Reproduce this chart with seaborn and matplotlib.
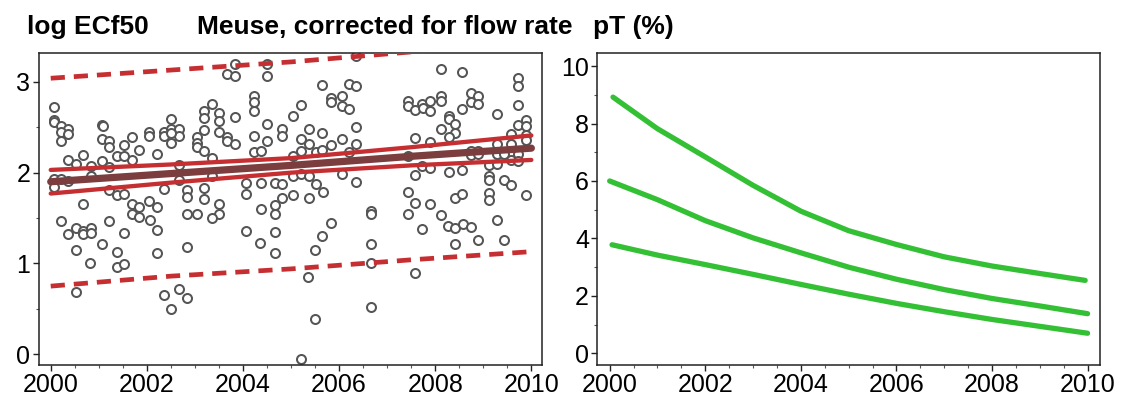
import matplotlib
matplotlib.use("Agg")
import matplotlib.pyplot as plt
from matplotlib.ticker import MultipleLocator
import seaborn as sns
import pandas as pd

# Individual samples: sampling date (decimal year) and log ECf50 (flow-corrected)
sample_year = [
    2000.06, 2000.06, 2000.07, 2000.22, 2000.36, 2000.22, 2000.36, 2000.22,
    2001.06, 2001.08, 2001.06, 2001.22, 2001.22, 2001.53, 2001.69, 2001.84, 2001.69, 2001.37, 2001.53,
    2002.05, 2002.05, 2002.21, 2002.36, 2002.36, 2002.51, 2002.51, 2002.67, 2002.51, 2002.67, 2002.51,
    2003.19, 2003.19, 2003.19, 2003.04, 2003.04, 2003.04, 2003.19,
    2000.36, 2000.52, 2000.68, 2000.83, 2001.06, 2001.22,
    2000.06, 2000.22, 2000.36, 2000.83, 2000.06, 2001.22, 2001.37, 2001.53,
    2000.68, 2001.69, 2001.84, 2002.05, 2002.21, 2002.36, 2002.67, 2002.67, 2002.83, 2002.83,
    2003.19, 2003.19, 2001.69, 2002.83, 2003.04,
    2003.83, 2003.67, 2003.83, 2004.51, 2004.51, 2006.35, 2005.65, 2006.21, 2006.36,
    2003.36, 2003.51, 2003.51, 2003.51, 2003.83, 2004.22, 2004.22, 2004.22, 2004.51, 2005.04,
    2005.20, 2005.83, 2005.83, 2006.05, 2006.05, 2006.21,
    2004.81, 2004.81, 2004.22, 2004.51, 2003.67, 2003.67, 2003.83, 2005.38, 2005.65, 2005.20,
    2005.38, 2006.05, 2006.36, 2006.36,
    2004.22, 2004.37, 2005.20, 2005.51, 2005.65, 2005.83, 2006.21, 2003.36, 2005.04,
    2004.06, 2004.37, 2004.67, 2004.82, 2005.04, 2005.20, 2005.38, 2005.51, 2006.05, 2006.36, 2003.36,
    2004.06, 2004.82, 2005.04, 2005.38, 2005.67, 2004.67, 2004.37, 2003.51, 2003.51, 2004.67,
    2006.66, 2006.66,
    2008.11, 2008.56, 2009.72, 2009.72, 2009.72, 2007.44, 2007.44, 2007.58, 2007.73, 2007.75,
    2007.90, 2007.90, 2008.11, 2008.11, 2008.56, 2008.74, 2008.74, 2008.90, 2008.90, 2009.28,
    2008.29, 2008.29, 2008.42, 2008.11, 2008.42, 2008.29, 2007.58, 2007.90, 2009.72, 2009.88,
    2009.88, 2009.57, 2009.88, 2009.88, 2009.28, 2009.57,
    2008.74, 2008.90, 2008.74, 2008.90, 2009.28, 2009.43, 2009.72, 2009.57, 2009.72, 2009.12,
    2009.28, 2007.44, 2007.73, 2007.90,
    2007.58, 2008.29, 2008.56, 2009.12, 2009.12, 2009.43, 2009.57, 2007.44, 2007.58, 2007.90,
    2008.42, 2008.56, 2009.12, 2009.12, 2009.88, 2007.44, 2008.11,
    2000.22, 2000.36, 2000.52, 2000.68, 2000.68, 2000.83, 2000.83, 2000.52, 2000.82, 2001.06,
    2001.22, 2001.37, 2001.37, 2001.53, 2001.53, 2001.84, 2002.06, 2002.21, 2002.21, 2002.83,
    2000.52, 2002.36, 2002.51, 2002.67, 2002.83,
    2003.36, 2004.06, 2004.35, 2004.67, 2004.67, 2005.50, 2005.65, 2005.83, 2006.66, 2006.66,
    2006.66, 2005.36, 2005.50, 2005.20,
    2007.73, 2008.27, 2008.42, 2008.58, 2008.74, 2008.42, 2008.90, 2009.28, 2009.43, 2007.58,
]
log_ecf50 = [
    2.72, 2.58, 2.56, 2.51, 2.48, 2.45, 2.43, 2.35,
    2.53, 2.51, 2.37, 2.35, 2.28, 2.31, 2.39, 2.25, 2.14, 2.18, 2.18,
    2.45, 2.40, 2.20, 2.45, 2.40, 2.59, 2.48, 2.48, 2.33, 2.40, 2.44,
    2.68, 2.60, 2.47, 2.39, 2.33, 2.28, 2.24,
    2.14, 2.10, 2.19, 2.07, 2.13, 2.06,
    1.93, 1.93, 1.91, 1.96, 1.84, 1.81, 1.75, 1.77,
    1.65, 1.66, 1.62, 1.69, 1.62, 1.82, 2.08, 1.92, 1.81, 1.73,
    1.83, 1.71, 1.55, 1.55, 1.55,
    3.20, 3.09, 3.07, 3.20, 3.06, 3.28, 2.97, 2.98, 2.95,
    2.76, 2.66, 2.57, 2.45, 2.61, 2.84, 2.78, 2.68, 2.54, 2.62,
    2.75, 2.82, 2.78, 2.84, 2.73, 2.70,
    2.48, 2.40, 2.40, 2.35, 2.39, 2.35, 2.32, 2.48, 2.44, 2.37,
    2.32, 2.37, 2.50, 2.32,
    2.23, 2.24, 2.24, 2.23, 2.25, 2.30, 2.23, 2.16, 2.18,
    1.89, 1.89, 1.89, 1.87, 1.96, 1.99, 1.96, 1.87, 1.98, 1.90, 1.96,
    1.77, 1.72, 1.75, 1.72, 1.79, 1.64, 1.60, 1.66, 1.54, 1.54,
    1.58, 1.54,
    3.14, 3.11, 3.04, 2.96, 2.75, 2.79, 2.73, 2.69, 2.76, 2.71,
    2.79, 2.68, 2.84, 2.79, 2.70, 2.88, 2.78, 2.84, 2.76, 2.65,
    2.62, 2.59, 2.54, 2.48, 2.44, 2.39, 2.38, 2.34, 2.53, 2.58,
    2.51, 2.43, 2.42, 2.36, 2.32, 2.32,
    2.24, 2.24, 2.19, 2.21, 2.20, 2.21, 2.21, 2.14, 2.13, 2.08,
    2.10, 2.18, 2.07, 2.05,
    1.97, 2.01, 2.03, 1.96, 1.92, 1.92, 1.86, 1.79, 1.67, 1.65,
    1.72, 1.76, 1.78, 1.70, 1.75, 1.54, 1.53,
    1.47, 1.32, 1.39, 1.36, 1.32, 1.39, 1.34, 1.15, 1.01, 1.21,
    1.47, 1.13, 0.96, 0.99, 1.33, 1.51, 1.48, 1.37, 1.12, 1.18,
    0.68, 0.65, 0.50, 0.72, 0.62,
    1.50, 1.36, 1.23, 1.35, 1.11, 1.15, 1.30, 1.45, 1.21, 1.01,
    0.52, 0.85, 0.39, -0.05,
    1.38, 1.41, 1.39, 1.43, 1.40, 1.21, 1.26, 1.48, 1.26, 0.90,
]

# Linear trend with confidence band and prediction band
fit_year = [2000.0, 2002.5, 2005.0, 2007.5, 2010.0]
fit_mean = [1.90, 1.99, 2.08, 2.18, 2.27]
fit_conf_lo = [1.77, 1.89, 2.00, 2.08, 2.14]
fit_conf_hi = [2.03, 2.09, 2.16, 2.28, 2.41]
fit_pred_lo = [0.75, 0.86, 0.94, 1.04, 1.13]
fit_pred_hi = [3.04, 3.13, 3.22, 3.33, 3.43]

# Percentage of toxicity (pT): estimate and its bounds
pt_year_upper = [2000.07, 2001, 2002, 2003, 2004, 2005, 2006, 2007, 2008, 2009, 2009.95]
pt_upper = [8.92, 7.82, 6.84, 5.85, 4.95, 4.27, 3.79, 3.36, 3.04, 2.78, 2.54]
pt_year_mid = [2000.0, 2001, 2002, 2003, 2004, 2005, 2006, 2007, 2008, 2009, 2010.0]
pt_mid = [6.00, 5.35, 4.62, 4.02, 3.50, 3.00, 2.58, 2.22, 1.91, 1.65, 1.38]
pt_year_lower = [2000.05, 2001, 2002, 2003, 2004, 2005, 2006, 2007, 2008, 2009, 2010.0]
pt_lower = [3.78, 3.42, 3.09, 2.75, 2.40, 2.06, 1.74, 1.45, 1.18, 0.94, 0.70]

sns.set_style("ticks")
plt.rcParams["font.family"] = ["Liberation Sans", "DejaVu Sans"]
plt.rcParams["text.color"] = "black"
plt.rcParams["xtick.labelcolor"] = "black"
plt.rcParams["ytick.labelcolor"] = "black"

RED = "#c62f32"
BROWN = "#7b3d3e"
GREEN = "#34c034"
FRAME = "#222222"

fig = plt.figure(figsize=(11.22, 3.96), dpi=100)
ax1 = fig.add_axes([0.0345, 0.078, 0.4485, 0.787])
ax2 = fig.add_axes([0.5323, 0.078, 0.4485, 0.787])

samples = pd.DataFrame({"year": sample_year, "logECf50": log_ecf50})
trend = pd.DataFrame({"year": fit_year, "mean": fit_mean,
                      "clo": fit_conf_lo, "chi": fit_conf_hi,
                      "plo": fit_pred_lo, "phi": fit_pred_hi})

sns.scatterplot(data=samples, x="year", y="logECf50", ax=ax1, s=42,
                facecolor="white", edgecolor="#555555", linewidth=1.45,
                zorder=2, legend=False)
for col in ("plo", "phi"):
    sns.lineplot(data=trend, x="year", y=col, ax=ax1, color=RED, lw=3.4,
                 zorder=3, legend=False)
    ax1.lines[-1].set_dashes((3.0, 1.9))
for col in ("clo", "chi"):
    sns.lineplot(data=trend, x="year", y=col, ax=ax1, color=RED, lw=3.1,
                 zorder=3, legend=False)
sns.lineplot(data=trend, x="year", y="mean", ax=ax1, color=BROWN, lw=5.2,
             zorder=4, legend=False)

curves = [(pt_year_upper, pt_upper), (pt_year_mid, pt_mid), (pt_year_lower, pt_lower)]
for xs, ys in curves:
    sns.lineplot(x=xs, y=ys, ax=ax2, color=GREEN, lw=3.8, legend=False,
                 solid_capstyle="round", solid_joinstyle="round")

ax1.set_xlim(1999.75, 2010.22)
ax1.set_ylim(-0.12, 3.313)
ax1.yaxis.set_major_locator(MultipleLocator(1))
ax1.yaxis.set_minor_locator(MultipleLocator(0.5))

ax2.set_xlim(1999.74, 2010.27)
ax2.set_ylim(-0.41, 10.44)
ax2.yaxis.set_major_locator(MultipleLocator(2))
ax2.yaxis.set_minor_locator(MultipleLocator(1))

for ax in (ax1, ax2):
    ax.set_xlabel("")
    ax.set_ylabel("")
    ax.xaxis.set_major_locator(MultipleLocator(2))
    ax.xaxis.set_minor_locator(MultipleLocator(0.5))
    for sp in ax.spines.values():
        sp.set_visible(True)
        sp.set_color(FRAME)
        sp.set_linewidth(1.1)
    ax.tick_params(which="major", direction="out", length=4, width=1,
                   color=FRAME, labelsize=18, labelcolor="black", pad=2)
    ax.tick_params(which="minor", direction="out", length=2.5, width=0.8,
                   color="#555555")
    ax.tick_params(top=False, right=False, which="both")

baseline = 1 - 34 / 396
fig.text(27 / 1122, baseline, "log ECf50", fontsize=19, fontweight="bold",
         ha="left", va="baseline", color="black")
fig.text(197 / 1122, baseline, "Meuse, corrected for flow rate",
         fontsize=19, fontweight="bold", ha="left", va="baseline", color="black")
fig.text(593 / 1122, baseline, "pT (%)", fontsize=19, fontweight="bold",
         ha="left", va="baseline", color="black")

fig.savefig("out.png", dpi=100)
